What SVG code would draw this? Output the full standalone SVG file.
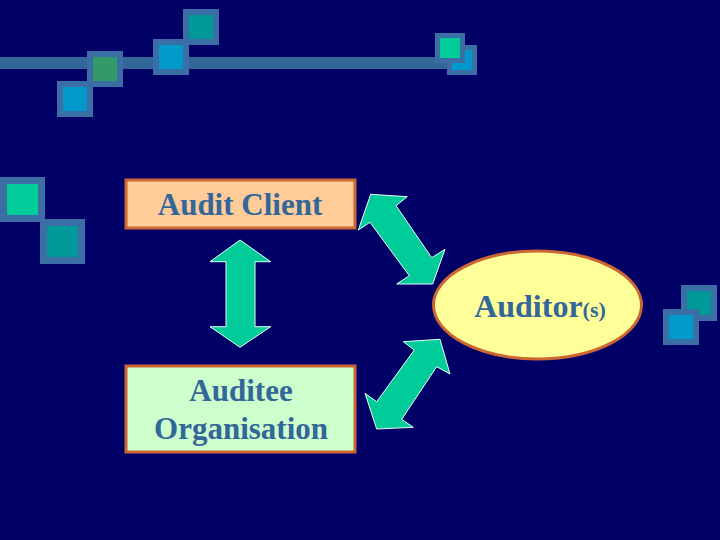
<svg xmlns="http://www.w3.org/2000/svg" width="720" height="540" viewBox="0 0 720 540">
<style>
.fr{stroke:#3a6ea5;}
.lbl{font-family:"Liberation Serif","Times New Roman",serif;font-weight:bold;fill:#336699;text-anchor:middle;}
.arr{fill:#00cc99;stroke:#e8fff8;stroke-width:1;stroke-linejoin:miter;}
.box{stroke:#cc6633;stroke-width:3;}
</style>
<rect width="720" height="540" fill="#000066"/>
<g id="decor">
<rect x="0" y="57" width="452" height="12" fill="#336699"/>
<rect class="fr" x="60" y="84" width="30" height="30" fill="#0099cc" stroke-width="6"/>
<rect class="fr" x="90" y="54" width="30" height="30" fill="#339966" stroke-width="6"/>
<rect class="fr" x="186" y="12" width="30" height="30" fill="#009999" stroke-width="6"/>
<rect class="fr" x="156" y="42" width="30" height="30" fill="#0099cc" stroke-width="6"/>
<rect class="fr" x="449.5" y="47.5" width="25" height="25" fill="#0099cc" stroke-width="5"/>
<rect class="fr" x="437.5" y="35.5" width="25" height="25" fill="#00cc99" stroke-width="5"/>
<rect class="fr" x="3.5" y="180.5" width="38" height="38" fill="#00cc99" stroke-width="7"/>
<rect class="fr" x="43.5" y="222.5" width="38" height="38" fill="#009999" stroke-width="7"/>
<rect class="fr" x="684" y="288" width="30" height="30" fill="#009999" stroke-width="6"/>
<rect class="fr" x="666" y="312" width="30" height="30" fill="#0099cc" stroke-width="6"/>
</g>
<g id="connectors">
<polygon class="arr" points="240,240 270.7,261.7 255,261.7 255,326.7 270.7,326.7 240,347.3 210,326.7 226,326.7 226,261.7 210,261.7"/>
<polygon class="arr" points="370.7,194.3 407.3,196.7 396,205.7 431.7,257.7 445,249.3 432.7,284 396.7,284 409.3,275.7 370,222.3 358.3,230"/>
<polygon class="arr" points="440,339.3 450,374 436.7,366.7 401.7,419.3 413.3,427.3 376.7,429 365,393.3 376.7,401.7 414.3,350 403.3,341.7"/>
</g>
<g id="audit-client">
<rect class="box" x="126" y="180" width="229" height="48" fill="#ffcc99"/>
<text class="lbl" x="240" y="215" font-size="31">Audit Client</text>
</g>
<g id="auditee">
<rect class="box" x="126" y="366" width="229" height="86" fill="#ccffcc"/>
<text class="lbl" x="241" y="401" font-size="31">Auditee</text>
<text class="lbl" x="241" y="439" font-size="31">Organisation</text>
</g>
<g id="auditor">
<ellipse cx="537.5" cy="305" rx="104" ry="54" fill="#ffff99" stroke="#cc6633" stroke-width="3"/>
<text class="lbl" x="540" y="317" font-size="32">Auditor<tspan font-size="22">(s)</tspan></text>
</g>
</svg>
